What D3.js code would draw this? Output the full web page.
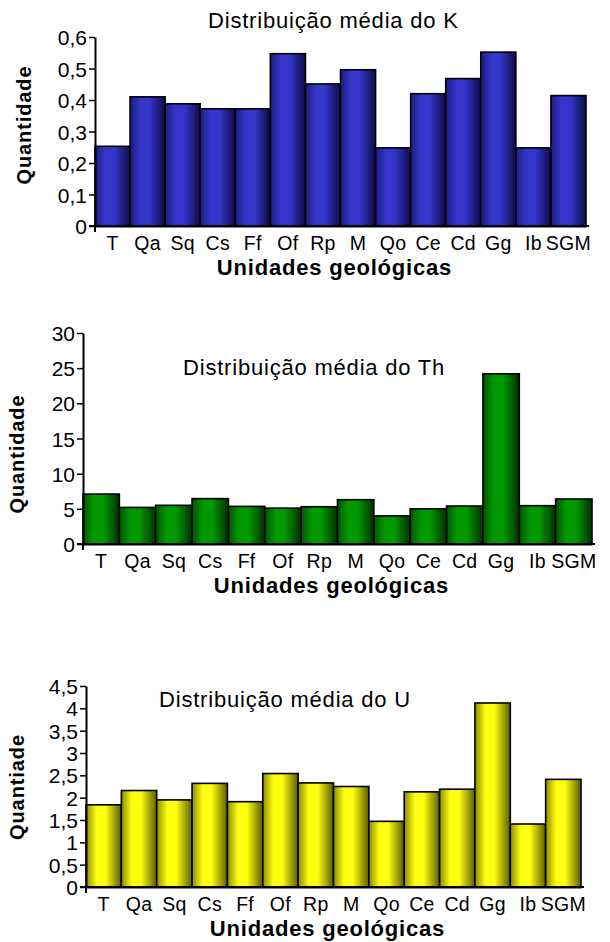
<!DOCTYPE html>
<html>
<head>
<meta charset="utf-8">
<script src="https://cdn.jsdelivr.net/npm/d3@7"></script>
<style>
  body { margin: 0; background: #fff; }
  text { font-family: "Liberation Sans", Arial, sans-serif; fill: #000; }
</style>
</head>
<body>
<svg id="chart" width="610" height="942"></svg>
<script>
// geological units on the x axis
const units = ["T", "Qa", "Sq", "Cs", "Ff", "Of", "Rp", "M", "Qo", "Ce", "Cd", "Gg", "Ib", "SGM"];

// mean values
const kValues = [0.253, 0.41, 0.388, 0.372, 0.372, 0.547, 0.451, 0.496, 0.248, 0.42, 0.468, 0.552, 0.248, 0.414];
const thValues = [7.1, 5.2, 5.5, 6.45, 5.35, 5.1, 5.3, 6.3, 4.0, 5.0, 5.4, 24.2, 5.45, 6.4];
const uValues = [1.84, 2.16, 1.95, 2.32, 1.91, 2.54, 2.33, 2.25, 1.47, 2.13, 2.19, 4.12, 1.41, 2.41];

const kTicks = [0, 0.1, 0.2, 0.3, 0.4, 0.5, 0.6];
const thTicks = [0, 5, 10, 15, 20, 25, 30];
const uTicks = [0, 0.5, 1, 1.5, 2, 2.5, 3, 3.5, 4, 4.5];

const ptLocale = d3.formatLocale({ decimal: ",", thousands: ".", grouping: [3], currency: ["R$", ""] });
const fmt = v => ptLocale.format("")(v);

const svg = d3.select("#chart");
const defs = svg.append("defs");

function makeGradient(id, edgeL, mid, edgeR) {
  const g = defs.append("linearGradient").attr("id", id)
    .attr("x1", "0%").attr("x2", "100%").attr("y1", "0%").attr("y2", "0%");
  g.append("stop").attr("offset", "0%").attr("stop-color", edgeL);
  g.append("stop").attr("offset", "30%").attr("stop-color", mid);
  g.append("stop").attr("offset", "55%").attr("stop-color", mid);
  g.append("stop").attr("offset", "100%").attr("stop-color", edgeR);
}
makeGradient("gBlue", "#1c1c80", "#3535cc", "#0c0c45");
makeGradient("gGreen", "#005500", "#009a00", "#002f00");
makeGradient("gYellow", "#8c8c00", "#ffff10", "#5c5c00");

function drawChart(cfg) {
  const g = svg.append("g");
  const x = d3.scaleBand().domain(units).range([cfg.left, cfg.right]).padding(0);
  const y = d3.scaleLinear().domain([0, cfg.max]).range([cfg.bottom, cfg.top]);

  // bars
  g.selectAll("rect.bar")
    .data(cfg.values)
    .join("rect")
    .attr("class", "bar")
    .attr("x", (d, i) => x(units[i]))
    .attr("y", d => y(d))
    .attr("width", x.bandwidth())
    .attr("height", d => y(0) - y(d))
    .attr("fill", `url(#${cfg.grad})`)
    .attr("stroke", "#000")
    .attr("stroke-width", 1.6);

  // y axis
  const ya = g.append("g")
    .attr("transform", `translate(${cfg.left},0)`)
    .call(d3.axisLeft(y).tickValues(cfg.ticks).tickFormat(fmt).tickSize(6).tickSizeOuter(0));
  ya.select(".domain").attr("stroke-width", 2);
  ya.selectAll(".tick line").attr("stroke-width", 1.5);
  ya.selectAll(".tick text").style("font-size", "21px").attr("x", -8).attr("dy", "0.36em");

  // x axis
  const xa = g.append("g")
    .attr("transform", `translate(0,${cfg.bottom})`)
    .call(d3.axisBottom(x).tickSize(0).tickSizeOuter(0));
  xa.select(".domain").attr("stroke-width", 2);
  xa.selectAll(".tick text").style("font-size", "19.5px").style("letter-spacing", "0.3px")
    .attr("y", 24).attr("dy", 0);
  // small tails at the corner and right end
  g.append("line").attr("x1", cfg.left - 6).attr("x2", cfg.right + 3)
    .attr("y1", cfg.bottom).attr("y2", cfg.bottom).attr("stroke", "#000").attr("stroke-width", 2);
  g.append("line").attr("x1", cfg.left).attr("x2", cfg.left)
    .attr("y1", cfg.bottom).attr("y2", cfg.bottom + 6).attr("stroke", "#000").attr("stroke-width", 2);

  // titles
  g.append("text").attr("x", cfg.titleX).attr("y", cfg.titleY)
    .style("font-size", "22px").style("letter-spacing", "0.8px").text(cfg.title);
  g.append("text").attr("x", (cfg.left + cfg.right) / 2 - 6).attr("y", cfg.bottom + 49)
    .attr("text-anchor", "middle").style("font-size", "22px").style("font-weight", "bold")
    .style("letter-spacing", "0.8px")
    .text("Unidades geológicas");
  g.append("text")
    .attr("transform", `translate(${cfg.yTitleX},${cfg.yTitleY}) rotate(-90)`)
    .attr("text-anchor", "middle").style("font-size", "20px").style("font-weight", "bold")
    .style("letter-spacing", "0.9px")
    .text(cfg.yTitle);
}

drawChart({ values: kValues, ticks: kTicks, max: 0.6, grad: "gBlue",
  left: 95, right: 586, top: 37, bottom: 226,
  title: "Distribuição média do K", titleX: 208, titleY: 28,
  yTitle: "Quantidade", yTitleX: 31, yTitleY: 125 });

drawChart({ values: thValues, ticks: thTicks, max: 30, grad: "gGreen",
  left: 83, right: 592, top: 333, bottom: 544,
  title: "Distribuição média do Th", titleX: 183, titleY: 375,
  yTitle: "Quantidade", yTitleX: 24, yTitleY: 454 });

drawChart({ values: uValues, ticks: uTicks, max: 4.5, grad: "gYellow",
  left: 86, right: 581, top: 686, bottom: 887,
  title: "Distribuição média do U", titleX: 159, titleY: 707,
  yTitle: "Quantiade", yTitleX: 24, yTitleY: 787 });
</script>
</body>
</html>
